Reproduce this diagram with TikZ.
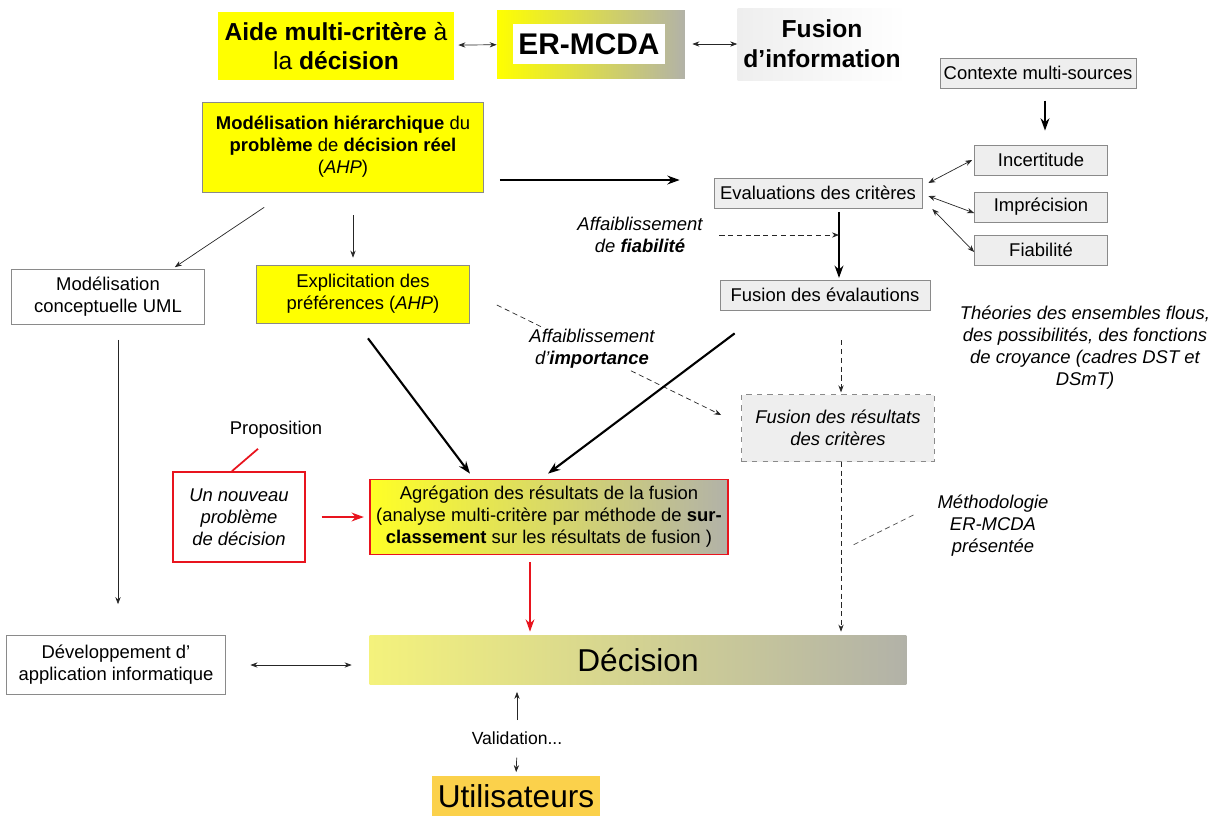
\documentclass[tikz,border=0pt]{standalone}
\usepackage{fontspec}
\setmainfont{Liberation Sans}
\usepackage{xcolor}
\definecolor{ErYellow}{HTML}{FFFF00}
\definecolor{ErPaleYellow}{HTML}{F4F27C}
\definecolor{ErGray}{HTML}{B2B2A8}
\definecolor{ErLightGray}{HTML}{EEEEEE}
\definecolor{ErFrame}{HTML}{8A8A8A}
\definecolor{ErRed}{HTML}{E8141E}
\definecolor{ErOrange}{HTML}{FBD14B}
\definecolor{ErBlack}{HTML}{000000}
\usepackage{tikz}
\usetikzlibrary{arrows.meta, positioning, calc}
\tikzset{
    box/.style={
        draw=ErFrame,
        fill=#1,
        minimum height=0.6cm,
        text=ErBlack,
        align=center,
        inner sep=2pt
    },
    box/.default=ErLightGray,
    redbox/.style={
        draw=ErRed,
        line width=1pt,
        text=ErBlack,
        align=center,
        inner sep=2pt
    },
    headtext/.style={
        font=\fontsize{14}{17}\selectfont,
        align=center
    },
    note/.style={
        font=\fontsize{10.5}{12.5}\selectfont\itshape,
        align=center
    },
    arrow/.style={
        -{Stealth[length=7pt,width=5pt]},
        line width=1.2pt,
        ErBlack
    },
    thinarrow/.style={
        -{Stealth[length=4pt,width=3pt]},
        line width=0.4pt,
        ErBlack!85
    },
    twoway/.style={
        {Stealth[length=4pt,width=3pt]}-{Stealth[length=4pt,width=3pt]},
        line width=0.4pt,
        ErBlack!85
    },
    dasharrow/.style={
        thinarrow,
        dash pattern=on 3pt off 2pt
    },
    redarrow/.style={
        arrow,
        ErRed
    },
    pointer/.style={
        line width=0.4pt,
        ErBlack!70,
        dash pattern=on 3pt off 2pt
    }
}
\begin{document}
\begin{tikzpicture}[x=0.02cm, y=-0.02cm, font=\fontsize{10.5}{12.5}\selectfont]
    \useasboundingbox (0,0) rectangle (1217,816);

    % Header
    \node[headtext, fill=ErYellow, minimum width=4.74cm, minimum height=1.36cm] (aide) at (336,46) {\textbf{Aide multi-critère} à\\la \textbf{décision}};
    \node[minimum width=3.76cm, minimum height=1.36cm, left color=ErYellow, right color=ErGray] (ermcdaframe) at (591,44) {};
    \node[fill=white, font=\bfseries\fontsize{17}{20}\selectfont, minimum width=2.8cm, minimum height=0.8cm] (ermcda) at (589,44) {ER-MCDA};
    \node[headtext, left color=ErLightGray, right color=white, minimum width=3.3cm, minimum height=1.44cm] (fusinfo) at (822,44) {\textbf{Fusion}\\\textbf{d'information}};

    \draw[twoway, shorten <=2pt] (aide) -- (ermcdaframe);
    \draw[twoway, shorten <=4pt] (ermcdaframe) -- (fusinfo);

    % Right column
    \node[box, minimum width=3.66cm] (ctx) at (1038,73) {Contexte multi-sources};
    \node[box, minimum width=2.66cm] (incert) at (1041,160) {Incertitude};
    \node[box, minimum width=2.66cm] (imprec) at (1041,207) {Imprécision};
    \node[box, minimum width=2.66cm] (fiab) at (1041,250) {Fiabilité};
    \node[box, minimum width=4.16cm] (eval) at (818,193) {Evaluations des critères};
    \node[box, minimum width=4.2cm] (fusev) at (825,295) {Fusion des évalautions};
    \node[box, dashed, minimum width=3.86cm, minimum height=1.34cm, font=\fontsize{10.5}{12.5}\selectfont\itshape] (fusres) at (838,428) {Fusion des résultats\\des critères};

    \coordinate (vline) at (839,0);
    \coordinate (dline) at (841,0);

    \draw[arrow, shorten <=7pt, shorten >=8pt] (ctx.south -| 1045,0) -- (incert.north -| 1045,0);
    \draw[twoway] ([shift={(6,-10)}]eval.east) -- ([shift={(-2,0)}]incert.west);
    \draw[twoway] ([shift={(6,3)}]eval.east) -- ([shift={(0,6)}]imprec.west);
    \draw[twoway] ([shift={(10,16)}]eval.east) -- ([shift={(0,2)}]fiab.west);

    \node[note] (affiab) at (640,235) {Affaiblissement\\de \textbf{fiabilité}};
    \draw[arrow, shorten <=2pt, shorten >=1pt] (eval.south -| vline) -- (fusev.north -| vline);
    \draw[dasharrow, shorten <=6pt] (affiab.east) -- (affiab.east -| vline);

    \node[note] (theo) at (1085,348) {Théories des ensembles flous,\\des possibilités, des fonctions\\de croyance (cadres DST et\\DSmT)};

    \draw[dasharrow, shorten <=17pt, shorten >=1pt] (fusev.south -| dline) -- (fusres.north -| dline);

    % Left column
    \node[box=ErYellow, minimum width=5.62cm, minimum height=1.8cm] (modhier) at (343,147) {\textbf{Modélisation hiérarchique} du\\\textbf{problème} de \textbf{décision réel}\\(\textit{AHP})};
    \node[box=white, minimum width=3.86cm, minimum height=1.1cm] (uml) at (108,297) {Modélisation\\conceptuelle UML};
    \node[box=ErYellow, minimum width=4.26cm, minimum height=1.16cm] (explic) at (363,294) {Explicitation des\\préférences (\textit{AHP})};
    \node[box=white, minimum width=4.38cm, minimum height=1.18cm] (dev) at (116,665) {Développement d'\\application informatique};

    \draw[arrow] ([shift={(16,33)}]modhier.east) -- ([shift={(-34,-13)}]eval.west);
    \draw[thinarrow] ([shift={(62,15)}]modhier.south west) -- ([shift={(-30,-2)}]uml.north east);
    \draw[thinarrow] ([shift={(10,23)}]modhier.south) -- ([shift={(-10,-7)}]explic.north);
    \draw[thinarrow] ([shift={(10,15)}]uml.south) -- ([shift={(2,-31)}]dev.north);

    % Weighting of the criteria
    \draw[dasharrow] ([shift={(27,11)}]explic.east) -- ([shift={(-20,-13)}]fusres.west);
    \node[note, fill=white, inner sep=1pt] (afimp) at (592,349) {Affaiblissement\\d'\textbf{importance}};

    % Aggregation
    \node[redbox, left color=ErYellow!85, right color=ErGray, minimum width=7.16cm, minimum height=1.5cm] (agreg) at (549,517) {Agrégation des résultats de la fusion\\(analyse multi-critère par méthode de \textbf{sur-}\\\textbf{classement} sur les résultats de fusion )};
    \node[redbox, fill=white, minimum width=2.64cm, minimum height=1.8cm, font=\fontsize{10.5}{12.5}\selectfont\itshape] (nouveau) at (239,517) {Un nouveau\\problème\\de décision};
    \node (propo) at (276,430) {Proposition};

    \draw[arrow] ([shift={(5,15)}]explic.south) -- ([shift={(-79,-5)}]agreg.north);
    \draw[arrow] ([shift={(15,23)}]fusev.south west) -- ([shift={(-1,-5)}]agreg.north);
    \draw[redarrow, shorten <=9pt, shorten >=3pt] (nouveau.east) -- (agreg.west);
    \draw[ErRed, line width=1pt] ([shift={(-18,4)}]propo.south) -- ([shift={(-7,0)}]nouveau.north);

    % Decision
    \node[minimum width=10.74cm, minimum height=0.98cm, left color=ErPaleYellow, right color=ErGray, font=\fontsize{18}{20}\selectfont] (decision) at (638,660) {Décision};
    \coordinate (redx) at (530,0);
    \draw[redarrow, line width=1pt, shorten <=4pt, shorten >=2pt] (agreg.south -| redx) -- (decision.north -| redx);
    \draw[dasharrow, shorten >=2pt] (fusres.south -| dline) -- (decision.north -| dline);
    \draw[twoway, shorten <=14pt, shorten >=10pt] (dev.east) -- (dev.east -| decision.west);

    \node[note] (metho) at (993,526) {Méthodologie\\ER-MCDA\\présentée};
    \coordinate (methotip) at (853,545);
    \draw[pointer] ([shift={(-18,-11)}]metho.west) -- (methotip);

    % Users
    \node[font=\fontsize{10}{12}\selectfont] (valid) at (517,738) {Validation...};
    \node[fill=ErOrange, minimum width=3.14cm, minimum height=0.8cm, font=\fontsize{18}{22}\selectfont] (users) at (516,796) {Utilisateurs};
    \draw[thinarrow, shorten <=3pt, shorten >=4pt] (valid.north) -- (valid.north |- decision.south);
    \draw[thinarrow, shorten <=4pt, shorten >=2pt] (valid.south) -- (users.north);
\end{tikzpicture}
\end{document}
